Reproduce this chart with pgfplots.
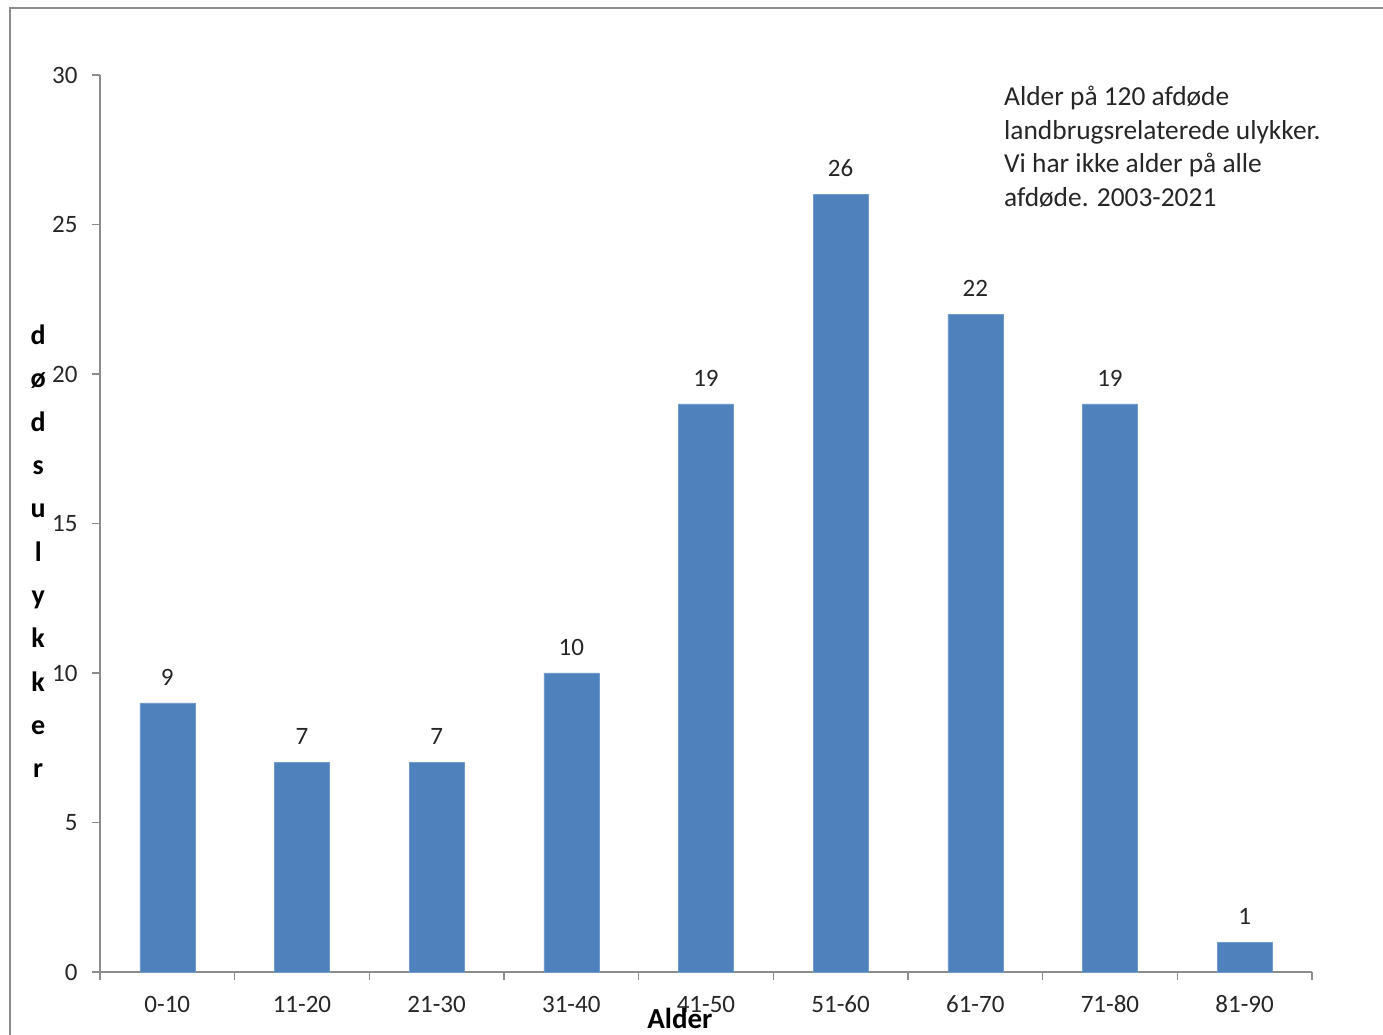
\documentclass[border=0pt]{standalone}
\usepackage{pgfplots}
\pgfplotsset{compat=1.18}
\usepackage{fontspec}
\setmainfont{Carlito}
\definecolor{barblue}{HTML}{4F81BD}
\definecolor{axgray}{HTML}{8C8C8C}
\begin{document}
\begin{tikzpicture}
\begin{axis}[
    name=ax,
    scale only axis, width=1212pt, height=897pt,
    ybar, bar width=55pt,
    xmin=-0.5, xmax=8.5, ymin=0, ymax=30,
    axis lines=left, axis line style={axgray, line width=1.5pt, -},
    xtick={0,...,8},
    xticklabels={0-10,11-20,21-30,31-40,41-50,51-60,61-70,71-80,81-90},
    minor xtick={-0.5,0.5,...,8.5},
    ytick={0,5,...,30},
    tick align=outside,
    major tick length=8pt, minor tick length=8pt,
    major x tick style={draw=none},
    minor x tick style={axgray, line width=1.5pt},
    y tick style={axgray, line width=1.5pt},
    /pgf/number format/assume math mode=true,
    tick label style={font=\fontsize{25}{30}\selectfont, text=black!85},
    xticklabel style={anchor=center, yshift=-24pt},
    yticklabel style={anchor=east, xshift=-11pt},
    nodes near coords,
    nodes near coords style={font=\fontsize{25}{30}\selectfont, text=black!85, anchor=center, yshift=26pt},
    xlabel={Alder},
    xlabel style={font=\bfseries\fontsize{29}{30}\selectfont, at={(axis description cs:0.4785,-0.0513)}, anchor=center},
    ylabel={d\\ø\\d\\s\\u\\l\\y\\k\\k\\e\\r},
    ylabel style={rotate=-90, align=center, font=\bfseries\fontsize{28}{43.3}\selectfont, at={(axis description cs:-0.051,0.469)}, anchor=center},
    clip=false,
]
\addplot[fill=barblue, draw=barblue!80!white] coordinates {
    (0,9) (1,7) (2,7) (3,10) (4,19) (5,26) (6,22) (7,19) (8,1)};
\end{axis}
\begin{scope}[shift={(ax.south west)}, x=1pt, y=1pt]
% outer chart frame
\draw[axgray, line width=2pt] (-90,-80) -- (-90,964) -- (1300,964);
\node[anchor=north west, inner sep=0pt, align=left, font=\fontsize{27.4}{33.5}\selectfont, text=black!85] at (904,886)
  {Alder på 120 afdøde\\landbrugsrelaterede ulykker.\\Vi har ikke alder på alle\\afdøde. 2003-2021};
\pgfresetboundingbox
\path[use as bounding box] (-100,-63) rectangle (1283,972);
\end{scope}
\end{tikzpicture}
\end{document}
